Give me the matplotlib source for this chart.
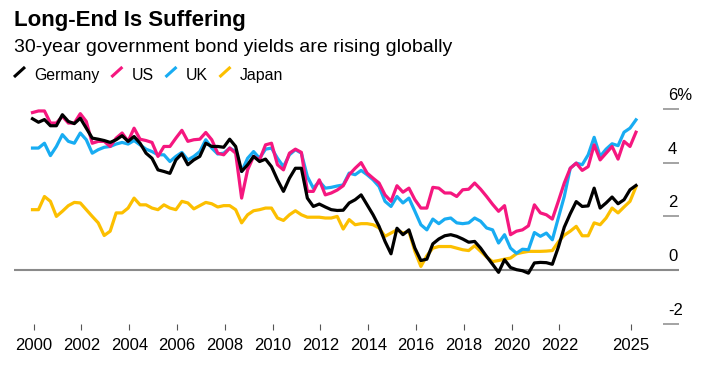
"""
Long-End Is Suffering: 30-year government bond yields, quarterly, 2000-2025.
Writes out.png (711x376).
"""

import numpy as np
import matplotlib
matplotlib.use("Agg")
import matplotlib.pyplot as plt
from matplotlib.lines import Line2D

plt.rcParams.update({
    "font.family": ["Liberation Sans", "DejaVu Sans"],
    "figure.facecolor": "white",
    "axes.facecolor": "white",
})

W, H, DPI = 711, 376, 100

# Quarterly observations, first one just before the 2000 tick
years = 1999.95 + 0.25 * np.arange(102)

germany = [
    5.63, 5.50, 5.60, 5.37, 5.37, 5.78, 5.53, 5.45, 5.65, 5.28, 4.91, 4.87, 4.82,
    4.75, 4.85, 5.00, 4.79, 4.97, 4.72, 4.35, 4.16, 3.73, 3.67, 3.60, 4.10,
    4.33, 3.92, 4.10, 4.23, 4.72, 4.60, 4.60, 4.57, 4.87, 4.60, 3.67, 3.92, 4.23,
    4.04, 4.13, 3.85, 3.36, 2.93, 3.42, 3.79, 3.79, 2.68, 2.37, 2.46, 2.35, 2.25,
    2.22, 2.23, 2.50, 2.62, 2.80, 2.43, 2.06, 1.63, 1.07, 0.61, 1.56, 1.32, 1.50,
    0.82, 0.36, 0.41, 0.98, 1.16, 1.28, 1.32, 1.26, 1.16, 1.04, 1.07, 0.82, 0.51,
    0.22, -0.08, 0.39, 0.10, 0.02, -0.02, -0.11, 0.27, 0.29, 0.28, 0.22, 0.85, 1.60,
    2.10, 2.55, 2.37, 2.39, 3.05, 2.31, 2.50, 2.72, 2.47, 2.62, 2.99, 3.15,
]
us = [
    5.86, 5.92, 5.92, 5.47, 5.47, 5.72, 5.47, 5.47, 5.82, 5.53, 4.72, 4.79, 4.79,
    4.60, 4.91, 5.10, 4.79, 5.28, 4.87, 4.82, 4.75, 4.23, 4.60, 4.60, 4.91,
    5.20, 4.79, 4.85, 4.87, 5.12, 4.85, 4.35, 4.29, 4.54, 4.35, 2.68, 3.73, 4.23,
    4.10, 4.66, 4.72, 3.92, 3.73, 4.35, 4.50, 4.38, 2.93, 2.93, 3.36, 2.80, 2.87,
    2.98, 3.14, 3.55, 3.79, 4.00, 3.61, 3.42, 3.24, 2.80, 2.56, 3.14, 2.90, 3.05,
    2.62, 2.31, 2.31, 3.08, 3.05, 2.87, 2.87, 2.74, 2.99, 3.01, 3.24, 3.01, 2.74,
    2.45, 2.19, 2.40, 1.32, 1.45, 1.50, 1.65, 2.43, 2.13, 2.06, 1.90, 2.56, 3.24,
    3.79, 3.98, 3.71, 3.85, 4.66, 4.10, 4.35, 4.60, 4.13, 4.79, 4.60, 5.13,
]
uk = [
    4.54, 4.54, 4.72, 4.26, 4.60, 5.04, 4.79, 4.72, 5.10, 4.85, 4.35, 4.48, 4.57,
    4.60, 4.69, 4.75, 4.69, 4.82, 4.66, 4.50, 4.41, 4.29, 4.29, 4.04, 4.23,
    4.38, 4.10, 4.23, 4.41, 4.85, 4.54, 4.32, 4.35, 4.54, 4.41, 3.67, 4.16, 4.41,
    4.16, 4.50, 4.54, 4.16, 3.85, 4.29, 4.48, 4.35, 3.48, 3.05, 3.30, 3.05, 3.08,
    3.13, 3.17, 3.61, 3.55, 3.71, 3.55, 3.36, 3.11, 2.56, 2.37, 2.74, 2.50, 2.68,
    2.19, 1.69, 1.50, 1.90, 1.73, 1.90, 1.94, 1.76, 1.73, 1.76, 1.94, 1.82, 1.57,
    1.50, 1.01, 1.32, 0.82, 0.63, 0.78, 0.76, 1.40, 1.26, 1.38, 1.13, 1.94, 2.74,
    3.79, 3.98, 3.92, 4.29, 4.94, 4.23, 4.50, 4.70, 4.63, 5.13, 5.28, 5.59,
]
japan = [
    2.25, 2.25, 2.74, 2.56, 2.00, 2.19, 2.40, 2.52, 2.50, 2.25, 2.00, 1.76, 1.29,
    1.45, 2.13, 2.13, 2.31, 2.68, 2.43, 2.43, 2.31, 2.25, 2.43, 2.31, 2.25,
    2.56, 2.50, 2.28, 2.40, 2.52, 2.47, 2.35, 2.40, 2.40, 2.25, 1.76, 2.06, 2.21,
    2.25, 2.31, 2.31, 1.94, 1.85, 2.06, 2.21, 2.06, 1.97, 1.97, 1.97, 1.94, 1.94,
    2.00, 1.53, 1.88, 1.69, 1.73, 1.73, 1.69, 1.57, 1.26, 1.38, 1.50, 1.38, 1.44,
    0.70, 0.14, 0.54, 0.82, 0.88, 0.88, 0.88, 0.82, 0.76, 0.73, 0.91, 0.70, 0.49,
    0.32, 0.36, 0.41, 0.45, 0.61, 0.66, 0.70, 0.70, 0.70, 0.71, 0.73, 1.05, 1.30,
    1.45, 1.63, 1.28, 1.28, 1.76, 1.69, 1.94, 2.31, 2.13, 2.35, 2.56, 3.10,
]

COLORS = {
    "Germany": "#000000",
    "US": "#f5177f",
    "UK": "#18acf2",
    "Japan": "#fcbf00",
}
SERIES = {"Germany": germany, "US": us, "UK": uk, "Japan": japan}
DRAW_ORDER = ["Japan", "UK", "US", "Germany"]

x_ticks = [2000, 2002, 2004, 2006, 2008, 2010, 2012, 2014, 2016, 2018, 2020, 2022, 2025]
y_ticks = [-2, 0, 2, 4, 6]
y_labels = ["-2", "0", "2", "4", "6%"]

GRAY = "#8a8a8a"

fig = plt.figure(figsize=(W / DPI, H / DPI), dpi=DPI)

# Plot area: 14..679 px wide, -2 at y=324 px, 26.9 px per point
ax = fig.add_axes([14 / W, (H - 324) / H, 665 / W, 8.3 * 26.9 / H])
ax.set_xlim(1999.176, 2027.0)
ax.set_ylim(-2, 6.3)
for s in ax.spines.values():
    s.set_visible(False)

ax.axhline(0, color=GRAY, lw=1.5, zorder=1)

for name in DRAW_ORDER:
    ax.plot(years, SERIES[name], color=COLORS[name], lw=2.3,
            solid_joinstyle="round", zorder=3)

ax.set_xticks(x_ticks)
ax.set_xticklabels([str(y) for y in x_ticks])
ax.tick_params(axis="x", length=4.3, width=0.8, color="#555555",
               labelsize=12, pad=6, labelcolor="black")

ax.yaxis.tick_right()
ax.set_yticks([-2, 2, 4, 6])
ax.tick_params(axis="y", direction="in", length=11.5, width=1.1,
               color=GRAY, labelright=False)

ytrans = ax.get_yaxis_transform()
for val, lab in zip(y_ticks, y_labels):
    ax.annotate(lab, xy=((668 - 14) / 665, val), xycoords=ytrans,
                xytext=(0, 6.5), textcoords="offset points",
                ha="left", va="baseline", fontsize=12, color="black")

# Title and subtitle
fig.text(14 / W, 1 - 25.7 / H, "Long-End Is Suffering", fontsize=16,
         fontweight="bold", ha="left", va="baseline")
fig.text(14 / W, 1 - 52.3 / H, "30-year government bond yields are rising globally",
         fontsize=14, ha="left", va="baseline")

# Legend: slash icon + label, laid out left to right
renderer = fig.canvas.get_renderer()
x = 14
for name in ["Germany", "US", "UK", "Japan"]:
    fig.add_artist(Line2D([x / W, (x + 11) / W], [1 - 77 / H, 1 - 67 / H],
                          color=COLORS[name], lw=2.2, solid_capstyle="butt"))
    t = fig.text((x + 20) / W, 1 - 80 / H, name, fontsize=11.4,
                 ha="left", va="baseline")
    bb = t.get_window_extent(renderer)
    x = bb.x1 + 12

fig.savefig("out.png", dpi=DPI)
